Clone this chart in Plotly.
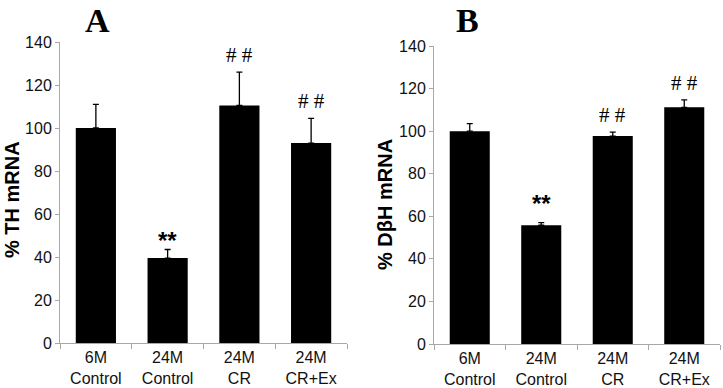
import plotly.graph_objects as go
from plotly.subplots import make_subplots

categories = ["6M<br>Control", "24M<br>Control", "24M<br>CR", "24M<br>CR+Ex"]
th_values = [100, 39.5, 110.5, 93]
th_err = [11, 4, 15.5, 11.5]
dbh_values = [100, 55.8, 97.7, 111.2]
dbh_err = [3.5, 1.2, 1.8, 3.5]
th_marks = ["", "**", "# #", "# #"]
dbh_marks = ["", "**", "# #", "# #"]
y_ticks = [0, 20, 40, 60, 80, 100, 120, 140]

W, H = 723, 388
fig = make_subplots(rows=1, cols=2)
xs = list(range(len(categories)))

for col, vals, errs in [(1, th_values, th_err), (2, dbh_values, dbh_err)]:
    fig.add_trace(go.Bar(
        x=xs, y=vals, width=0.56,
        marker=dict(color="black", line=dict(color="black", width=0)),
        error_y=dict(type="data", symmetric=False, array=errs,
                     arrayminus=[0]*len(errs), color="black", thickness=1.3, width=3),
        showlegend=False), row=1, col=col)

FONT = "Arial, Liberation Sans"
axis_common = dict(showline=True, linecolor="#a8a8a8", linewidth=1, showgrid=False,
                   zeroline=False, automargin=False)
fig.update_xaxes(range=[-0.5, 3.5], tickvals=xs, ticktext=categories, ticks="",
                 tickfont=dict(family=FONT, size=16, color="#111"),
                 minor=dict(tick0=-0.5, dtick=1, ticks="outside", ticklen=5, tickcolor="#a8a8a8"),
                 **axis_common)
fig.update_yaxes(range=[0, 140], tickvals=y_ticks, ticks="outside", ticklen=4, tickcolor="#a8a8a8",
                 tickfont=dict(family=FONT, size=16, color="#111"),
                 **axis_common)

fig.update_layout(
    width=W, height=H, margin=dict(l=0, r=0, t=0, b=0),
    plot_bgcolor="white", paper_bgcolor="white",
    xaxis=dict(domain=[60/W, 347/W]),
    xaxis2=dict(domain=[434/W, 720/W]),
    yaxis=dict(domain=[(H-343)/H, (H-42)/H]),
    yaxis2=dict(domain=[(H-344)/H, (H-46)/H]),
)

annotations = []
star_shift = {"x": 9, "x2": 19}
for xr, yr, vals, errs, marks in [("x", "y", th_values, th_err, th_marks),
                                  ("x2", "y2", dbh_values, dbh_err, dbh_marks)]:
    for i, m in enumerate(marks):
        if not m:
            continue
        top = vals[i] + errs[i]
        if m == "**":
            annotations.append(dict(x=i, y=top, xref=xr, yref=yr, text="<b>**</b>", showarrow=False,
                                    yanchor="middle", yshift=star_shift[xr],
                                    font=dict(family=FONT, size=24, color="black")))
        else:
            annotations.append(dict(x=i, y=top, xref=xr, yref=yr, text=m, showarrow=False,
                                    yanchor="middle", yshift=17,
                                    font=dict(family="Liberation Serif, Times New Roman", size=21, color="black")))
for txt, x in [("A", 97), ("B", 467)]:
    annotations.append(dict(x=x/W, y=1, xref="paper", yref="paper", text=f"<b>{txt}</b>",
                            showarrow=False, xanchor="center", yanchor="top",
                            font=dict(family="Liberation Serif, Times New Roman", size=34, color="black")))
for txt, x, y in [("% TH mRNA", 12, 200), ("% DβH mRNA", 385, 205)]:
    annotations.append(dict(x=x/W, y=1 - y/H, xref="paper", yref="paper", text=f"<b>{txt}</b>",
                            showarrow=False, xanchor="center", yanchor="middle", textangle=-90,
                            font=dict(family=FONT, size=20, color="black")))
fig.update_layout(annotations=annotations)

fig.write_html("out.html", config={"displayModeBar": False},
               post_script="document.body.style.margin='0';document.body.style.overflow='hidden';")
